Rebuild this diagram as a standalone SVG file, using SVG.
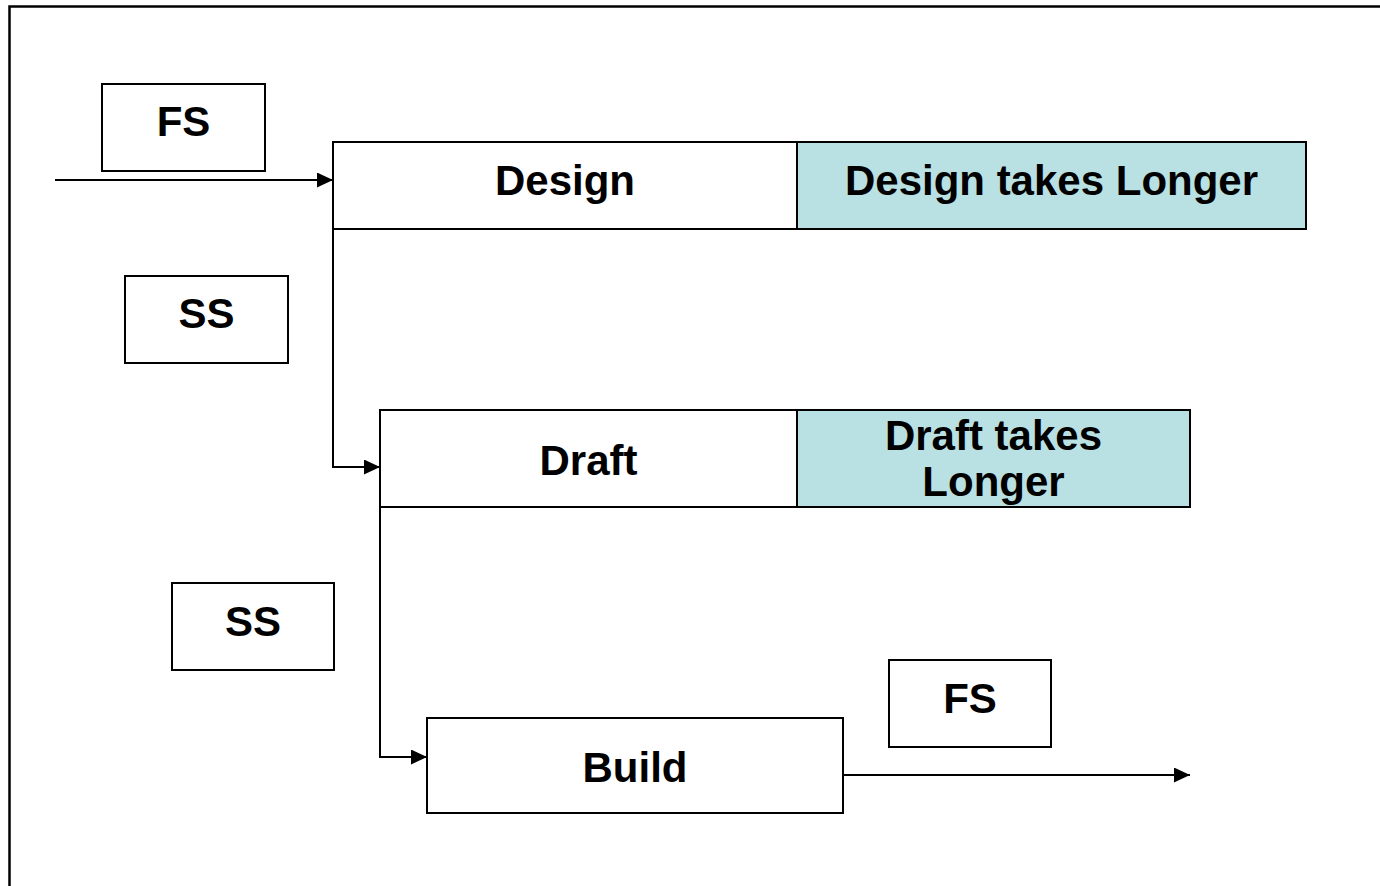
<svg xmlns="http://www.w3.org/2000/svg" width="1380" height="886" viewBox="0 0 1380 886">
<defs>
<style>
.box{fill:#ffffff;stroke:#000000;stroke-width:2}
.hl{fill:#b9e0e3;stroke:#000000;stroke-width:2}
.t{font-family:"Liberation Sans",Arial,sans-serif;font-weight:bold;font-size:42px;fill:#000000;text-anchor:middle}
.c{fill:none;stroke:#000000;stroke-width:2}
</style>
<marker id="arrL" viewBox="0 0 10 10" refX="10" refY="5" markerWidth="16" markerHeight="15" markerUnits="userSpaceOnUse" orient="auto" preserveAspectRatio="none">
<path d="M0,0 L10,5 L0,10 Z" fill="#000000"/>
</marker>
</defs>
<rect x="0" y="0" width="1380" height="886" fill="#ffffff"/>
<rect x="9.5" y="6.5" width="1400" height="900" fill="none" stroke="#000000" stroke-width="2.5"/>

<g id="connectors">
<line class="c" x1="55" y1="180" x2="333" y2="180" marker-end="url(#arrL)"/>
<polyline class="c" points="333,229 333,467 380,467" marker-end="url(#arrL)"/>
<polyline class="c" points="380,507 380,757 427,757" marker-end="url(#arrL)"/>
<line class="c" x1="843" y1="775" x2="1190" y2="775" marker-end="url(#arrL)"/>
</g>

<g id="fs1">
<rect class="box" x="102" y="84" width="163" height="87"/>
<text class="t" x="183.5" y="136">FS</text>
</g>
<g id="design">
<rect class="box" x="333" y="142" width="464" height="87"/>
<text class="t" x="565" y="195">Design</text>
</g>
<g id="design-longer">
<rect class="hl" x="797" y="142" width="509" height="87"/>
<text class="t" x="1051.5" y="195">Design takes Longer</text>
</g>
<g id="ss1">
<rect class="box" x="125" y="276" width="163" height="87"/>
<text class="t" x="206.5" y="328">SS</text>
</g>
<g id="draft">
<rect class="box" x="380" y="410" width="417" height="97"/>
<text class="t" x="588.5" y="475">Draft</text>
</g>
<g id="draft-longer">
<rect class="hl" x="797" y="410" width="393" height="97"/>
<text class="t" x="993.5" y="450">Draft takes</text>
<text class="t" x="993.5" y="496">Longer</text>
</g>
<g id="ss2">
<rect class="box" x="172" y="583" width="162" height="87"/>
<text class="t" x="253" y="636">SS</text>
</g>
<g id="fs2">
<rect class="box" x="889" y="660" width="162" height="87"/>
<text class="t" x="970" y="713">FS</text>
</g>
<g id="build">
<rect class="box" x="427" y="718" width="416" height="95"/>
<text class="t" x="635" y="782">Build</text>
</g>
</svg>
